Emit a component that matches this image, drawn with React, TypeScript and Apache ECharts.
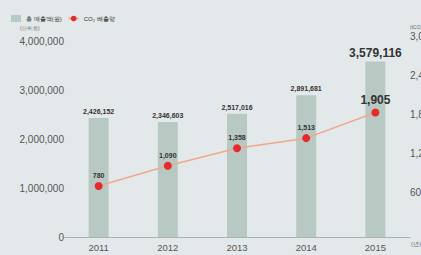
import React, { useEffect, useRef } from "react";
import * as echarts from "echarts";

const years = ["2011", "2012", "2013", "2014", "2015"];
const salesValues = [2426152, 2346603, 2517016, 2891681, 3579116];
const co2Values = [780, 1090, 1358, 1513, 1905];
const leftTicks = [0, 1000000, 2000000, 3000000, 4000000];
const legendNames = ["총 매출액(원)", "CO₂ 배출량"];

const fmt = (v: number) => v.toLocaleString("en-US");

export default function App() {
  const ref = useRef<HTMLDivElement>(null);
  useEffect(() => {
    document.body.style.margin = "0";
    const chart = echarts.init(ref.current!, null, { renderer: "svg" });
    const last = years.length - 1;
    const smallLbl = { fontSize: 7, fontWeight: "bold", color: "#333" };
    const bigLbl = { fontSize: 12, fontWeight: "bold", color: "#333" };
    chart.setOption({
      animation: false,
      backgroundColor: "#e3e9ea",
      textStyle: { fontFamily: "Liberation Sans, Arial, sans-serif" },
      legend: {
        left: 6,
        top: 10,
        itemWidth: 10,
        itemHeight: 7,
        itemGap: 6,
        textStyle: { fontSize: 6, color: "#333" },
        data: [
          { name: legendNames[0], icon: "rect" },
          { name: legendNames[1] },
        ],
      },
      graphic: [
        {
          type: "text",
          left: 20,
          top: 25,
          style: { text: "(단위:원)", fontSize: 5, fill: "#666" },
        },
        {
          type: "text",
          left: 410,
          top: 24,
          style: { text: "(tCO₂)", fontSize: 5, fill: "#666" },
        },
        {
          type: "text",
          left: 411,
          top: 241,
          style: { text: "(년)", fontSize: 6, fill: "#666" },
        },
      ],
      grid: { left: 64, right: 11, top: 41, bottom: 18, outerBoundsMode: "none", containLabel: false },
      xAxis: {
        type: "category",
        data: years,
        axisLine: { lineStyle: { color: "#a8b3b5", width: 1 } },
        axisTick: { show: false },
        axisLabel: { fontSize: 9.5, color: "#555", margin: 5 },
      },
      yAxis: [
        {
          type: "value",
          min: leftTicks[0],
          max: leftTicks[leftTicks.length - 1],
          interval: 1000000,
          splitLine: { show: false },
          axisLine: { show: false },
          axisTick: { show: false },
          axisLabel: { fontSize: 10, color: "#555", margin: 0, formatter: (v: number) => fmt(v) },
        },
        {
          type: "value",
          min: 0,
          max: 3000,
          interval: 600,
          position: "right",
          splitLine: { show: false },
          axisLine: { show: false },
          axisTick: { show: false },
          axisLabel: { fontSize: 10, color: "#555", margin: 0, verticalAlign: "bottom", formatter: (v: number) => (v === 0 ? "" : fmt(v)) },
        },
      ],
      series: [
        {
          name: legendNames[0],
          type: "bar",
          barWidth: 20,
          itemStyle: { color: "#b8c9c4" },
          data: salesValues.map((v, i) => ({
            value: v,
            label: i === last ? bigLbl : smallLbl,
          })),
          label: {
            show: true,
            position: "top",
            distance: 3,
            formatter: (p: any) => fmt(p.value),
          },
        },
        {
          name: legendNames[1],
          type: "line",
          yAxisIndex: 1,
          symbol: "circle",
          symbolSize: 8,
          lineStyle: { color: "#f0a88a", width: 1.5 },
          itemStyle: { color: "#e52a2e" },
          data: co2Values.map((v, i) => ({
            value: v,
            label: i === last ? bigLbl : smallLbl,
          })),
          label: {
            show: true,
            position: "top",
            distance: 3,
            formatter: (p: any) => fmt(p.value),
          },
        },
      ],
    });
    return () => chart.dispose();
  }, []);
  return (
    <div
      ref={ref}
      style={{ position: "absolute", left: 0, top: 0, width: 421, height: 255 }}
    />
  );
}
